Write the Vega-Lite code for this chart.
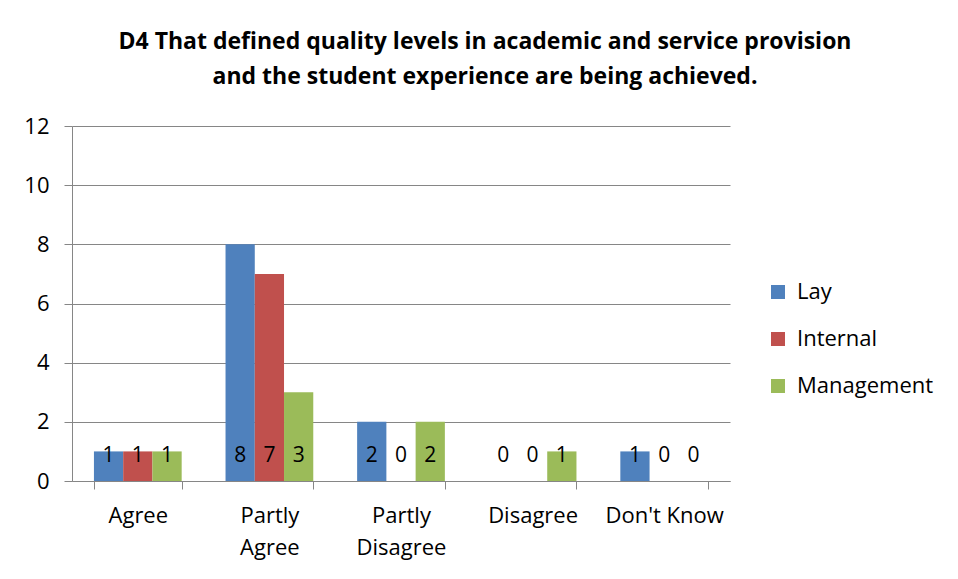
{
  "$schema": "https://vega.github.io/schema/vega-lite/v6.json",
  "width": 658,
  "height": 355,
  "autosize": {"type": "none"},
  "padding": {"left": 72, "top": 126, "right": 228, "bottom": 98},
  "background": "white",
  "config": {
    "font": "Open Sans",
    "view": {"stroke": null},
    "axis": {"labelFont": "Open Sans", "labelColor": "black", "labelFontSize": 22, "domainColor": "#868686", "tickColor": "#868686", "gridColor": "#868686", "titleFontSize": 0}
  },
  "title": {
    "text": ["D4 That defined quality levels in academic and service provision", "and the student experience are being achieved."],
    "font": "Open Sans",
    "fontWeight": "bold",
    "fontSize": 23,
    "color": "black",
    "anchor": "middle",
    "dx": 84,
    "lineHeight": 35,
    "offset": 26
  },
  "data": {
    "values": [
      {"category": "Agree", "group": "Lay", "value": 1},
      {"category": "Agree", "group": "Internal", "value": 1},
      {"category": "Agree", "group": "Management", "value": 1},
      {"category": "Partly Agree", "group": "Lay", "value": 8},
      {"category": "Partly Agree", "group": "Internal", "value": 7},
      {"category": "Partly Agree", "group": "Management", "value": 3},
      {"category": "Partly Disagree", "group": "Lay", "value": 2},
      {"category": "Partly Disagree", "group": "Internal", "value": 0},
      {"category": "Partly Disagree", "group": "Management", "value": 2},
      {"category": "Disagree", "group": "Lay", "value": 0},
      {"category": "Disagree", "group": "Internal", "value": 0},
      {"category": "Disagree", "group": "Management", "value": 1},
      {"category": "Don't Know", "group": "Lay", "value": 1},
      {"category": "Don't Know", "group": "Internal", "value": 0},
      {"category": "Don't Know", "group": "Management", "value": 0}
    ]
  },
  "encoding": {
    "x": {
      "field": "category",
      "type": "nominal",
      "sort": ["Agree", "Partly Agree", "Partly Disagree", "Disagree", "Don't Know"],
      "scale": {"paddingInner": 0.3333, "paddingOuter": 0.1667},
      "axis": {
        "title": null,
        "labelAngle": 0,
        "tickBand": "extent",
        "tickSize": 8,
        "labelPadding": 16,
        "labelLineHeight": 32,
        "labelExpr": "indexof(datum.label, 'Partly') == 0 ? split(datum.label, ' ') : datum.label",
        "grid": false
      }
    },
    "xOffset": {
      "field": "group",
      "type": "nominal",
      "sort": ["Lay", "Internal", "Management"],
      "scale": {"paddingInner": 0, "paddingOuter": 0}
    }
  },
  "layer": [
    {
      "mark": {"type": "bar"},
      "encoding": {
        "y": {
          "field": "value",
          "type": "quantitative",
          "scale": {"domain": [0, 12]},
          "axis": {"title": null, "values": [0, 2, 4, 6, 8, 10, 12], "tickSize": 8, "labelPadding": 15, "grid": true}
        },
        "color": {
          "field": "group",
          "type": "nominal",
          "sort": ["Lay", "Internal", "Management"],
          "scale": {"domain": ["Lay", "Internal", "Management"], "range": ["#4F81BD", "#C0504D", "#9BBB59"]},
          "legend": {
            "title": null,
            "orient": "none",
            "legendX": 695,
            "legendY": 155,
            "symbolType": "square",
            "symbolSize": 196,
            "symbolStrokeWidth": 0,
            "labelFont": "Open Sans",
            "labelFontSize": 22,
            "labelColor": "black",
            "rowPadding": 25,
            "labelOffset": 8
          }
        }
      }
    },
    {
      "mark": {"type": "text", "baseline": "alphabetic", "dy": -19, "fontSize": 21, "color": "black", "font": "Open Sans"},
      "encoding": {
        "y": {"datum": 0, "type": "quantitative"},
        "text": {"field": "value", "type": "quantitative"}
      }
    }
  ]
}
